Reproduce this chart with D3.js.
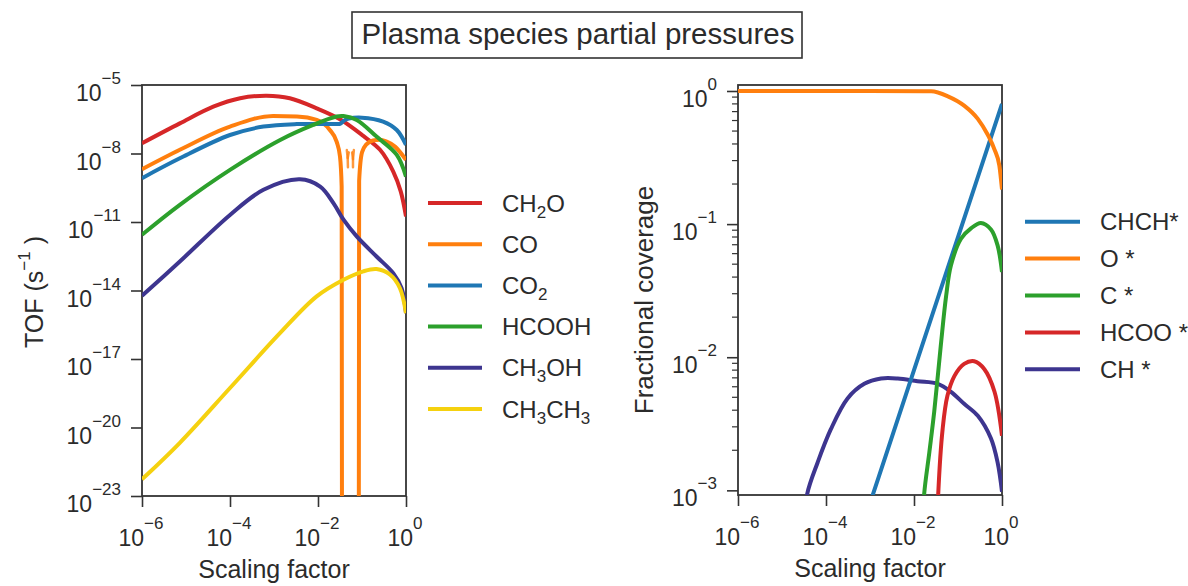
<!DOCTYPE html>
<html>
<head>
<meta charset="utf-8">
<script src="https://cdn.jsdelivr.net/npm/d3@7"></script>
<style>
  html, body { margin: 0; padding: 0; background: #ffffff; }
  svg { display: block; }
  text { font-family: "Liberation Sans", Arial, Helvetica, sans-serif; fill: #2b2b2b; }
</style>
</head>
<body>
<svg id="chart" width="1188" height="586"></svg>
<script>
// ---------------- DATA ----------------
const chartTitle = "Plasma species partial pressures";

// Left panel: TOF vs scaling factor, [scaling factor, TOF (s^-1)]
const tofCH2O = [[1e-6,2.82e-8],[7.24e-6,2.09e-7],[4.17e-5,1.12e-6],[1.70e-4,2.63e-6],[6.76e-4,3.39e-6],
  [2.29e-3,2.63e-6],[9.33e-3,9.55e-7],[3.16e-2,3.16e-7],[0.107,5.89e-8],[0.257,1.45e-8],[0.513,1.62e-9],
  [0.759,2.19e-10],[1,1.74e-11]];
const tofCO = [[1e-6,2.04e-9],[7.24e-6,1.45e-8],[1e-4,1.51e-7],[9.55e-4,4.37e-7],[3.31e-3,4.17e-7],
  [9.33e-3,2.95e-7],[1.86e-2,1.07e-7],[2.65e-2,3.31e-8],[3.16e-2,7.41e-9],[3.45e-2,3.55e-10],[3.53e-2,1e-30],
  null,
  [8.41e-2,1e-30],[8.61e-2,6.31e-10],[0.1,1.12e-8],[0.126,2.51e-8],[0.178,3.72e-8],[0.251,3.98e-8],
  [0.355,3.39e-8],[0.562,2.0e-8],[1,5.25e-9]];
const tofCOFragments = [
  [[4.52e-2,1.41e-8],[4.73e-2,6.31e-9],[4.79e-2,2.51e-9]],
  [[5.01e-2,1.12e-8],[4.73e-2,6.31e-9]],
  [[5.96e-2,1.12e-8],[6.24e-2,5.62e-9],[6.24e-2,2.51e-9]],
  [[6.53e-2,1.41e-8],[6.24e-2,5.62e-9]]
];
const tofCO2 = [[1e-6,8.32e-10],[7.24e-6,6.17e-9],[1e-4,6.46e-8],[5.75e-4,1.51e-7],[3.31e-3,1.95e-7],
  [2.63e-2,1.95e-7],[3.16e-2,2.0e-7],[3.98e-2,2.82e-7],[5.01e-2,3.39e-7],[0.1,3.72e-7],[0.302,2.51e-7],
  [0.617,1.07e-7],[1,2.40e-8]];
const tofHCOOH = [[1e-6,2.75e-12],[7.24e-6,5.62e-11],[1e-4,1.91e-9],[1.38e-3,3.89e-8],[7.76e-3,1.78e-7],
  [2.63e-2,4.17e-7],[3.80e-2,4.37e-7],[7.59e-2,2.95e-7],[0.214,5.50e-8],[0.617,8.71e-9],[1,9.77e-10]];
const tofCH3OH = [[1e-6,5.89e-15],[7.24e-6,1.86e-13],[1e-4,2.04e-11],[5.75e-4,2.57e-10],[3.89e-3,7.41e-10],
  [1.12e-2,3.55e-10],[2.24e-2,6.76e-11],[3.80e-2,1.26e-11],[7.59e-2,2.34e-12],[0.214,3.09e-13],
  [0.513,5.75e-14],[0.794,1.26e-14],[1,1.02e-15]];
const tofCH3CH3 = [[1e-6,5.37e-23],[7.24e-6,2.14e-21],[1e-4,5.37e-19],[1.38e-3,1.38e-16],[9.33e-3,5.50e-15],
  [3.80e-2,2.95e-14],[0.107,6.92e-14],[0.214,8.71e-14],[0.437,4.90e-14],[0.724,1.29e-14],[1,1.02e-15]];

const leftNames  = ["CH2O", "CO", "CO2", "HCOOH", "CH3OH", "CH3CH3"];
const leftColors = ["#d62728", "#ff7f0e", "#1f77b4", "#2ca02c", "#3d358f", "#f5d10f"];

// Right panel: fractional coverage vs scaling factor
const covCHCH = [[1e-4,8.0e-5],[1e-3,8.0e-4],[1e-2,8.0e-3],[1e-1,8.0e-2],[1,0.8]];
const covO = [[1e-6,1.0],[1e-3,1.0],[2.45e-2,0.995],[5.89e-2,0.912],[0.138,0.776],[0.282,0.617],
  [0.468,0.473],[0.676,0.363],[0.871,0.275],[1,0.182]];
const covC = [[1.58e-2,5.0e-4],[1.70e-2,9.33e-4],[2.24e-2,1.95e-3],[2.88e-2,3.89e-3],[4.07e-2,1.23e-2],
  [5.37e-2,2.88e-2],[6.92e-2,4.90e-2],[0.117,7.76e-2],[0.2,9.33e-2],[0.331,0.102],[0.562,9.12e-2],
  [0.794,6.92e-2],[1,4.37e-2]];
const covHCOO = [[3.31e-2,4.0e-4],[3.55e-2,9.33e-4],[4.47e-2,2.88e-3],[5.75e-2,5.13e-3],[8.32e-2,7.24e-3],
  [0.138,8.91e-3],[0.234,9.33e-3],[0.398,8.13e-3],[0.676,5.50e-3],[1,2.57e-3]];
const covCH = [[3.16e-5,5.0e-4],[3.72e-5,9.33e-4],[6.46e-5,1.62e-3],[1.29e-4,2.88e-3],[3.09e-4,4.90e-3],
  [7.41e-4,6.31e-3],[1.78e-3,6.92e-3],[4.27e-3,6.92e-3],[1.20e-2,6.61e-3],[3.47e-2,6.31e-3],
  [6.92e-2,5.50e-3],[0.138,4.47e-3],[0.282,3.63e-3],[0.562,2.45e-3],[0.794,1.62e-3],[1,9.77e-4]];

const rightNames  = ["CHCH*", "O *", "C *", "HCOO *", "CH *"];
const rightColors = ["#1f77b4", "#ff7f0e", "#2ca02c", "#d62728", "#3d358f"];

// Ticks
const xTickValues = [1e-6, 1e-4, 1e-2, 1];
const xTickLabels = ["−6", "−4", "−2", "0"];
const leftYTickValues = [1e-5, 1e-8, 1e-11, 1e-14, 1e-17, 1e-20, 1e-23];
const leftYTickLabels = ["−5", "−8", "−11", "−14", "−17", "−20", "−23"];
const rightYTickValues = [1, 1e-1, 1e-2, 1e-3];
const rightYTickLabels = ["0", "−1", "−2", "−3"];

// ---------------- LAYOUT ----------------
const svg = d3.select("#chart");
const L = {x0: 142, x1: 406, y0: 85, y1: 496};
const R = {x0: 738, x1: 1002, y0: 85, y1: 495};
const TICK = 11, MINOR = 6;
const axisColor = "#333333";
const TICKFONT = 23, SUPFONT = 17;

const xL = d3.scaleLog().domain([1e-6, 1]).range([L.x0, L.x1]);
const yL = d3.scaleLog().domain([1e-23, 1e-5]).range([L.y1, L.y0]);
const xR = d3.scaleLog().domain([1e-6, 1]).range([R.x0, R.x1]);
const yR = d3.scaleLog().domain([Math.pow(10, -3.035), Math.pow(10, 0.045)]).range([R.y1, R.y0]);

// Title box
const titleG = svg.append("g");
titleG.append("rect").attr("x", 352).attr("y", 12).attr("width", 450).attr("height", 46)
  .attr("fill", "#fff").attr("stroke", "#333").attr("stroke-width", 1.6);
titleG.append("text").attr("x", 578).attr("y", 44).attr("text-anchor", "middle")
  .attr("font-size", 29.5).text(chartTitle);

// clip paths
const defs = svg.append("defs");
defs.append("clipPath").attr("id", "clipL").append("rect")
  .attr("x", L.x0).attr("y", L.y0).attr("width", L.x1 - L.x0).attr("height", L.y1 - L.y0);
defs.append("clipPath").attr("id", "clipR").append("rect")
  .attr("x", R.x0).attr("y", R.y0).attr("width", R.x1 - R.x0).attr("height", R.y1 - R.y0);

function supLabel(sel, exp, supSize, dy) {
  sel.append("tspan").text("10");
  sel.append("tspan").attr("font-size", supSize).attr("dy", dy).text(exp);
}

function drawPanel(P, x, y, yTicks, yLabels, minor) {
  const g = svg.append("g");
  // x axis
  const xa = g.append("g").attr("transform", `translate(0,${P.y1})`)
    .call(d3.axisBottom(x).tickValues(xTickValues).tickSize(TICK).tickFormat(""));
  xa.select(".domain").remove();
  xa.selectAll(".tick line").attr("stroke", axisColor).attr("stroke-width", 1.6);
  xTickValues.forEach((v, i) => {
    const t = g.append("text").attr("x", x(v) - 1).attr("y", P.y1 + 50)
      .attr("text-anchor", "middle").attr("font-size", TICKFONT);
    supLabel(t, xTickLabels[i], SUPFONT, -17);
  });
  // y axis
  const ya = g.append("g").attr("transform", `translate(${P.x0},0)`)
    .call(d3.axisLeft(y).tickValues(yTicks).tickSize(TICK).tickFormat(""));
  ya.select(".domain").remove();
  ya.selectAll(".tick line").attr("stroke", axisColor).attr("stroke-width", 1.6);
  if (minor) {
    const mv = [];
    for (let e = -4; e <= 0; e++) for (let m = 2; m <= 9; m++) {
      const v = m * Math.pow(10, e);
      if (v >= y.domain()[0] && v <= y.domain()[1]) mv.push(v);
    }
    g.append("g").selectAll("line").data(mv).join("line")
      .attr("x1", P.x0 - MINOR).attr("x2", P.x0).attr("y1", d => y(d)).attr("y2", d => y(d))
      .attr("stroke", axisColor).attr("stroke-width", 1.2);
  }
  yTicks.forEach((v, i) => {
    const t = g.append("text").attr("x", P.x0 - 21).attr("y", y(v) + 16)
      .attr("text-anchor", "end").attr("font-size", TICKFONT);
    supLabel(t, yLabels[i], SUPFONT, -17);
  });
  // frame
  g.append("rect").attr("x", P.x0).attr("y", P.y0).attr("width", P.x1 - P.x0).attr("height", P.y1 - P.y0)
    .attr("fill", "none").attr("stroke", axisColor).attr("stroke-width", 1.8);
  // x label
  g.append("text").attr("x", (P.x0 + P.x1) / 2).attr("y", P.y1 + 82).attr("text-anchor", "middle")
    .attr("font-size", 25).text("Scaling factor");
  return g;
}

const gL = drawPanel(L, xL, yL, leftYTickValues, leftYTickLabels, false);
const gR = drawPanel(R, xR, yR, rightYTickValues, rightYTickLabels, true);

// Y labels
const tofLab = svg.append("text").attr("transform", "translate(43,292) rotate(-90)")
  .attr("text-anchor", "middle").attr("font-size", 25);
tofLab.append("tspan").text("TOF (s");
tofLab.append("tspan").attr("font-size", 17).attr("dy", -13).text("−1");
tofLab.append("tspan").attr("dy", 13).text(" )");
svg.append("text").attr("transform", "translate(653,300) rotate(-90)")
  .attr("text-anchor", "middle").attr("font-size", 26).text("Fractional coverage");

// Lines
function lineGen(x, y, curve) {
  return d3.line().defined(d => d !== null).x(d => x(d[0])).y(d => y(d[1])).curve(curve);
}
const smooth = d3.curveCatmullRom.alpha(0.5);
const lL = lineGen(xL, yL, smooth), lLco = lineGen(xL, yL, d3.curveMonotoneX);
const lR = lineGen(xR, yR, smooth), lRmono = lineGen(xR, yR, d3.curveMonotoneX);
const plotL = svg.append("g").attr("clip-path", "url(#clipL)");
const leftSeries = [tofCH2O, tofCO, tofCO2, tofHCOOH, tofCH3OH, tofCH3CH3];
leftSeries.forEach((s, i) => {
  plotL.append("path").attr("d", (i === 1 ? lLco : lL)(s)).attr("fill", "none").attr("stroke", leftColors[i])
    .attr("stroke-width", 4).attr("stroke-linejoin", "round");
  if (i === 1) {
    tofCOFragments.forEach(f => {
      plotL.append("path").attr("d", d3.line().x(d => xL(d[0])).y(d => yL(d[1]))(f))
        .attr("fill", "none").attr("stroke", leftColors[1]).attr("stroke-width", 2.5)
        .attr("stroke-linecap", "round").attr("opacity", 0.8);
    });
  }
});
const plotR = svg.append("g").attr("clip-path", "url(#clipR)");
const rightSeries = [covCHCH, covO, covC, covHCOO, covCH];
[4, 0, 1, 2, 3].forEach(i => {
  plotR.append("path").attr("d", (i === 1 ? lRmono : lR)(rightSeries[i])).attr("fill", "none")
    .attr("stroke", rightColors[i]).attr("stroke-width", 4).attr("stroke-linejoin", "round");
});

// Legends
function subText(sel, name) {
  const parts = name.match(/[A-Za-z *]+|\d+/g);
  let shifted = false;
  parts.forEach(p => {
    if (/^\d+$/.test(p)) {
      sel.append("tspan").attr("font-size", 17).attr("dy", 6).text(p);
      shifted = true;
    } else {
      const t = sel.append("tspan").text(p);
      if (shifted) { t.attr("dy", -6); shifted = false; }
    }
  });
}
const legL = svg.append("g");
leftNames.forEach((n, i) => {
  const yy = 203 + i * 41.2;
  legL.append("line").attr("x1", 428).attr("x2", 482).attr("y1", yy).attr("y2", yy)
    .attr("stroke", leftColors[i]).attr("stroke-width", 4);
  const t = legL.append("text").attr("x", 502).attr("y", yy + 8.5).attr("font-size", 24);
  subText(t, n);
});
const legR = svg.append("g");
rightNames.forEach((n, i) => {
  const yy = 221.7 + i * 36.9;
  legR.append("line").attr("x1", 1025).attr("x2", 1080).attr("y1", yy).attr("y2", yy)
    .attr("stroke", rightColors[i]).attr("stroke-width", 4);
  legR.append("text").attr("x", 1100).attr("y", yy + 8.5).attr("font-size", 24).text(n);
});
</script>
</body>
</html>
